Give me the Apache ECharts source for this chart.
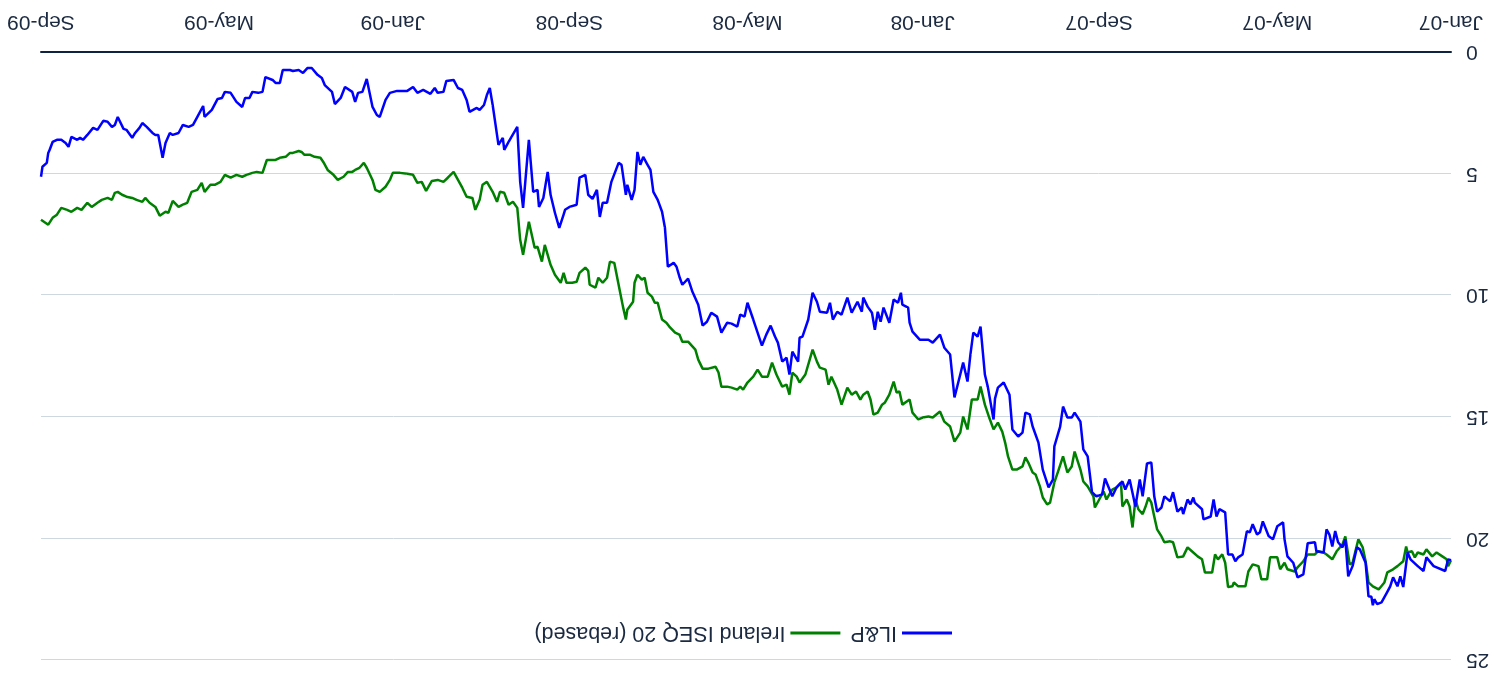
<!DOCTYPE html>
<html>
<head>
<meta charset="utf-8">
<script src="https://cdn.jsdelivr.net/npm/echarts@6/dist/echarts.min.js"></script>
<style>
  html, body { margin: 0; padding: 0; background: #ffffff; }
  /* the whole figure is presented turned half a revolution */
  #chart { width: 1500px; height: 675px; transform: rotate(180deg); }
</style>
</head>
<body>
<div id="chart"></div>
<script>
// Axis ticks: first of the month, every four months
const tickDates = [[2007, 0], [2007, 4], [2007, 8], [2008, 0], [2008, 4], [2008, 8], [2009, 0], [2009, 4], [2009, 8]];
const tickLabels = ['Jan-07', 'May-07', 'Sep-07', 'Jan-08', 'May-08', 'Sep-08', 'Jan-09', 'May-09', 'Sep-09'];
const seriesNames = ['IL&P', 'Ireland ISEQ 20 (rebased)'];

// IL&P share price: days since 1 Jan 2007, price
const ilpDay = [
  0,2,4,12,17,19,23,28,30,33,
  35,37,40,42,44,48,51,53,54,55,
  57,59,63,65,68,71,73,75,78,80,
  82,84,86,88,93,94,99,102,106,109,
  113,115,116,120,123,126,130,132,134,137,
  139,141,144,147,149,151,154,156,160,162,
  164,166,171,172,177,178,180,182,185,186,
  189,192,194,198,200,203,205,207,210,213,
  215,218,222,225,227,231,234,239,241,245,
  248,251,254,256,260,262,265,268,270,274,
  275,278,282,285,289,291,294,296,299,303,
  305,309,313,315,316,320,322,324,325,327,
  330,332,334,337,339,343,346,350,353,358,
  361,367,372,374,375,379,380,382,385,388,
  392,394,396,398,400,403,406,407,410,414,
  417,421,424,427,429,431,436,438,441,444,
  448,450,451,455,457,459,462,465,467,470,
  473,476,479,482,486,488,491,493,497,500,
  504,507,511,514,517,520,524,527,531,533,
  535,537,541,543,545,548,551,553,555,558,
  560,562,564,566,569,570,573,575,580,583,
  586,588,590,593,596,598,602,604,609,612,
  613,616,619,622,624,627,630,631,634,637,
  641,643,645,649,651,654,655,658,662,664,
  666,668,671,673,678,680,683,686,689,694,
  696,700,702,705,710,714,717,721,728,733,
  736,740,742,745,746,749,752,755,757,759,
  764,767,771,773,778,780,783,787,790,793,
  796,800,802,807,809,812,814,819,821,824,
  828,830,833,835,839,843,847,849,852,856,
  861,862,866,869,872,876,879,883,885,888,
  890,893,895,897,901,904,906,909,911,915,
  917,921,923,925,928,931,935,938,942,945,
  947,949,953,955,957,960,963,966,968,969,
  970,973,974
];
const ilpValue = [
  20.9,20.86,21.34,21.14,20.78,21.34,21.14,20.86,20.58,22.0,
  21.56,21.97,21.6,21.97,22.2,22.63,22.7,22.5,22.75,22.4,
  22.38,21.0,20.45,20.37,21.14,21.56,20.04,20.37,20.16,19.7,
  20.33,19.84,19.63,20.58,20.53,20.16,20.2,21.48,21.6,21.0,
  20.74,20.04,19.34,19.5,20.04,19.9,19.3,19.75,19.84,19.42,
  19.75,19.7,20.66,20.78,20.94,20.66,20.66,18.93,18.8,19.1,
  18.4,19.1,19.22,18.8,18.53,18.32,18.6,18.4,19.0,18.73,
  18.9,18.1,18.48,18.27,18.73,18.9,18.27,16.88,16.92,18.27,
  17.58,18.69,17.58,17.99,17.66,17.9,18.27,17.54,18.19,18.27,
  18.1,16.63,16.34,15.2,14.83,15.03,15.03,14.58,15.4,16.22,
  17.58,17.9,17.17,16.06,15.4,14.9,14.83,15.65,15.81,15.52,
  14.09,13.59,13.8,14.25,15.11,13.76,13.26,11.95,11.29,11.7,
  11.54,12.44,13.55,12.77,13.26,14.2,12.44,12.16,11.62,11.95,
  11.83,11.83,11.5,11.13,10.51,10.39,9.9,10.31,10.18,11.13,
  10.51,11.09,10.68,11.42,10.72,10.47,10.1,10.68,10.27,10.72,
  10.1,10.8,10.68,11.0,10.31,10.72,10.68,10.27,9.9,11.0,
  11.7,11.75,12.73,12.32,13.26,12.57,12.73,11.95,11.7,11.25,
  11.62,12.07,11.54,11.0,10.31,10.88,10.8,11.29,11.17,11.13,
  11.54,10.88,10.72,11.09,11.25,10.39,9.86,9.32,9.57,9.24,
  8.83,8.67,8.83,7.23,6.57,6.08,5.75,4.85,4.64,4.31,
  4.64,4.11,5.67,6.08,5.46,5.87,4.64,4.56,5.34,6.2,
  6.2,6.78,5.67,6.04,5.87,5.05,5.17,6.28,6.37,6.49,
  6.69,7.23,6.61,5.87,4.93,6.0,6.37,5.67,5.75,3.61,
  6.41,5.34,3.08,3.49,3.7,4.02,3.53,3.82,2.18,1.48,
  1.77,2.18,2.38,2.3,2.46,1.97,1.56,1.48,1.15,1.19,
  1.64,1.68,1.48,1.72,1.56,1.68,1.44,1.6,1.6,1.68,
  1.97,2.67,2.59,2.26,2.18,1.11,1.64,1.68,2.05,1.64,
  1.44,1.89,2.14,1.64,1.36,1.07,0.94,0.66,0.66,0.86,
  0.74,0.78,0.74,0.74,1.27,1.27,1.15,1.03,1.64,1.68,
  1.64,1.89,1.89,2.26,2.05,1.68,1.64,1.89,1.93,2.38,
  2.67,2.22,2.67,3.0,3.08,3.0,3.33,3.41,3.33,3.74,
  4.35,3.41,3.41,3.33,3.08,2.92,3.12,3.33,3.53,3.2,
  3.16,2.67,3.0,3.08,2.87,2.83,3.2,3.12,3.41,3.61,
  3.53,3.61,3.49,3.9,3.74,3.61,3.61,3.7,4.02,4.15,
  4.56,4.72,5.13
];

// ISEQ 20 index rebased to the IL&P starting price
const iseqDay = [
  0,2,3,6,10,13,17,19,23,25,
  27,30,31,33,37,40,44,46,50,54,
  57,59,61,64,68,70,73,75,79,82,
  86,88,92,94,99,102,106,108,113,115,
  118,120,125,127,131,133,137,140,142,147,
  150,151,154,156,158,161,163,165,170,172,
  175,179,182,185,189,192,194,198,200,201,
  203,205,207,209,211,213,216,218,220,222,
  224,227,228,231,234,236,238,240,243,246,
  247,251,254,256,260,262,265,268,271,274,
  277,279,282,284,287,289,292,294,296,300,
  303,306,308,310,313,316,319,322,325,327,
  331,334,337,339,343,346,350,353,358,361,
  365,368,372,374,379,381,383,385,388,391,
  393,396,399,401,403,406,408,411,414,417,
  421,424,428,430,432,436,438,441,443,446,
  450,452,455,457,459,462,466,469,472,476,
  479,482,486,489,491,493,497,500,504,506,
  508,513,517,520,522,527,531,533,536,540,
  542,545,548,550,552,555,557,559,562,564,
  565,569,570,572,575,578,581,583,586,589,
  590,591,595,596,598,602,604,607,611,613,
  615,619,622,626,628,631,633,637,641,643,
  645,648,651,654,657,659,662,666,669,671,
  674,676,680,683,689,693,696,700,704,708,
  711,714,717,721,726,731,733,736,740,743,
  745,749,751,754,757,759,762,765,769,772,
  776,779,781,785,788,792,794,796,800,802,
  805,809,812,818,821,825,828,832,835,839,
  843,847,850,854,857,861,863,866,870,873,
  876,879,883,886,888,892,895,899,902,904,
  908,911,915,918,921,923,925,928,932,935,
  939,942,946,949,953,956,960,963,966,969,
  971,974
];
const iseqValue = [
  20.9,21.14,20.86,20.74,20.58,20.74,20.45,20.66,20.58,20.78,
  20.53,20.58,20.33,20.94,21.14,21.27,21.4,21.81,22.1,21.97,
  21.81,20.94,20.37,20.04,21.0,21.07,19.92,20.25,20.53,20.86,
  20.66,20.58,20.53,20.66,20.66,20.94,21.19,21.36,21.27,21.0,
  21.27,20.78,20.78,21.68,21.68,21.14,21.07,21.36,21.97,21.97,
  21.81,21.97,22.0,21.0,20.66,20.86,20.66,21.4,21.4,20.86,
  20.74,20.53,20.37,20.74,20.78,20.16,20.12,20.16,19.92,19.84,
  19.63,19.1,18.53,18.32,18.69,19.0,18.8,18.4,19.55,18.69,
  18.4,18.69,17.7,17.9,17.99,18.19,18.4,18.07,18.4,18.73,
  18.27,17.86,17.66,17.17,16.43,17.04,17.29,16.63,17.17,17.7,
  18.53,18.6,18.32,17.86,17.37,17.29,16.88,16.67,17.04,17.17,
  17.17,16.63,16.06,15.61,15.24,15.52,15.03,14.5,13.76,14.29,
  14.29,15.52,14.99,15.65,16.02,15.4,15.2,14.78,15.03,14.99,
  15.03,15.11,14.83,14.29,14.5,13.96,14.0,13.55,14.09,14.41,
  14.5,14.83,14.91,14.29,13.96,14.09,14.29,13.96,14.09,13.8,
  14.5,13.88,13.35,13.68,13.06,12.98,12.73,12.24,12.65,13.26,
  13.59,13.35,13.18,14.09,13.68,13.76,13.26,12.77,13.35,13.35,
  13.06,13.35,13.59,13.88,13.76,13.88,13.8,13.76,13.76,13.18,
  12.94,13.02,13.02,12.65,12.24,11.91,11.91,11.62,11.54,11.29,
  11.13,11.0,10.31,10.31,10.06,9.9,9.28,9.36,9.16,9.49,
  10.27,10.6,11.0,10.47,9.57,8.67,8.62,9.28,9.49,9.28,
  9.49,9.69,9.57,9.0,8.87,9.08,9.45,9.49,9.49,9.08,
  9.49,9.16,8.75,7.93,8.62,8.01,8.05,6.98,8.34,7.72,
  6.41,6.16,6.28,5.79,5.75,6.16,5.75,5.34,5.46,6.08,
  6.49,6.0,5.95,5.58,4.93,5.17,5.34,5.26,5.3,5.71,
  5.34,5.38,5.05,5.01,4.97,4.97,5.26,5.54,5.75,5.67,
  5.26,4.76,4.56,4.76,4.85,4.93,4.93,5.13,5.26,5.05,
  4.85,4.52,4.35,4.31,4.23,4.23,4.11,4.07,4.15,4.15,
  4.31,4.35,4.44,4.44,4.97,4.93,4.97,5.05,5.13,5.05,
  5.17,5.05,5.34,5.46,5.46,5.75,5.38,5.67,5.75,6.2,
  6.28,6.37,6.12,6.61,6.57,6.73,6.37,6.2,6.0,6.16,
  6.08,6.0,5.95,5.87,5.75,5.79,6.08,6.0,6.08,6.2,
  6.37,6.2,6.49,6.41,6.57,6.49,6.41,6.69,6.82,7.1,
  7.02,6.9
];

const DAY_MS = 86400000;
const START = Date.UTC(2007, 0, 1);
const tickValues = tickDates.map(([y, m]) => Date.UTC(y, m, 1));
const toPoints = (days, values) => days.map((d, i) => [START + d * DAY_MS, values[i]]);

const TEXT = '#1b2a40';
const FONT = "'Liberation Sans', Arial, sans-serif";

const chart = echarts.init(document.getElementById('chart'), null, { renderer: 'canvas' });
chart.setOption({
  animation: false,
  backgroundColor: '#ffffff',
  textStyle: { fontFamily: FONT },
  grid: { left: 49, right: 41, top: 15, bottom: 52, containLabel: false },
  legend: {
    data: seriesNames,
    left: 543,
    top: 26,
    icon: 'rect',
    itemWidth: 50,
    itemHeight: 3,
    itemGap: 10,
    textStyle: { fontSize: 21.5, color: TEXT, fontFamily: FONT }
  },
  xAxis: {
    // timestamps on a linear axis, labelled at the four-monthly ticks
    type: 'value',
    min: tickValues[0],
    max: tickValues[tickValues.length - 1],
    axisLine: { show: true, lineStyle: { color: '#0f2340', width: 2 } },
    axisTick: { show: false },
    splitLine: { show: false },
    axisLabel: {
      customValues: tickValues,
      margin: 20,
      fontSize: 21,
      color: TEXT,
      fontFamily: FONT,
      formatter: (v) => {
        const i = tickValues.indexOf(v);
        return i >= 0 ? tickLabels[i] : '';
      }
    }
  },
  yAxis: {
    type: 'value',
    min: 0,
    max: 25,
    interval: 5,
    axisLine: { show: false },
    axisTick: { show: false },
    splitLine: { show: true, lineStyle: { color: '#cdd8df', width: 1 } },
    axisLabel: { margin: 15, fontSize: 21, color: TEXT, fontFamily: FONT }
  },
  series: [
    {
      name: seriesNames[0],
      type: 'line',
      showSymbol: false,
      symbol: 'none',
      lineStyle: { color: '#0000ff', width: 2.5 },
      itemStyle: { color: '#0000ff' },
      data: toPoints(ilpDay, ilpValue),
      z: 3
    },
    {
      name: seriesNames[1],
      type: 'line',
      showSymbol: false,
      symbol: 'none',
      lineStyle: { color: '#008000', width: 2.5 },
      itemStyle: { color: '#008000' },
      data: toPoints(iseqDay, iseqValue),
      z: 2
    }
  ]
});
</script>
</body>
</html>
